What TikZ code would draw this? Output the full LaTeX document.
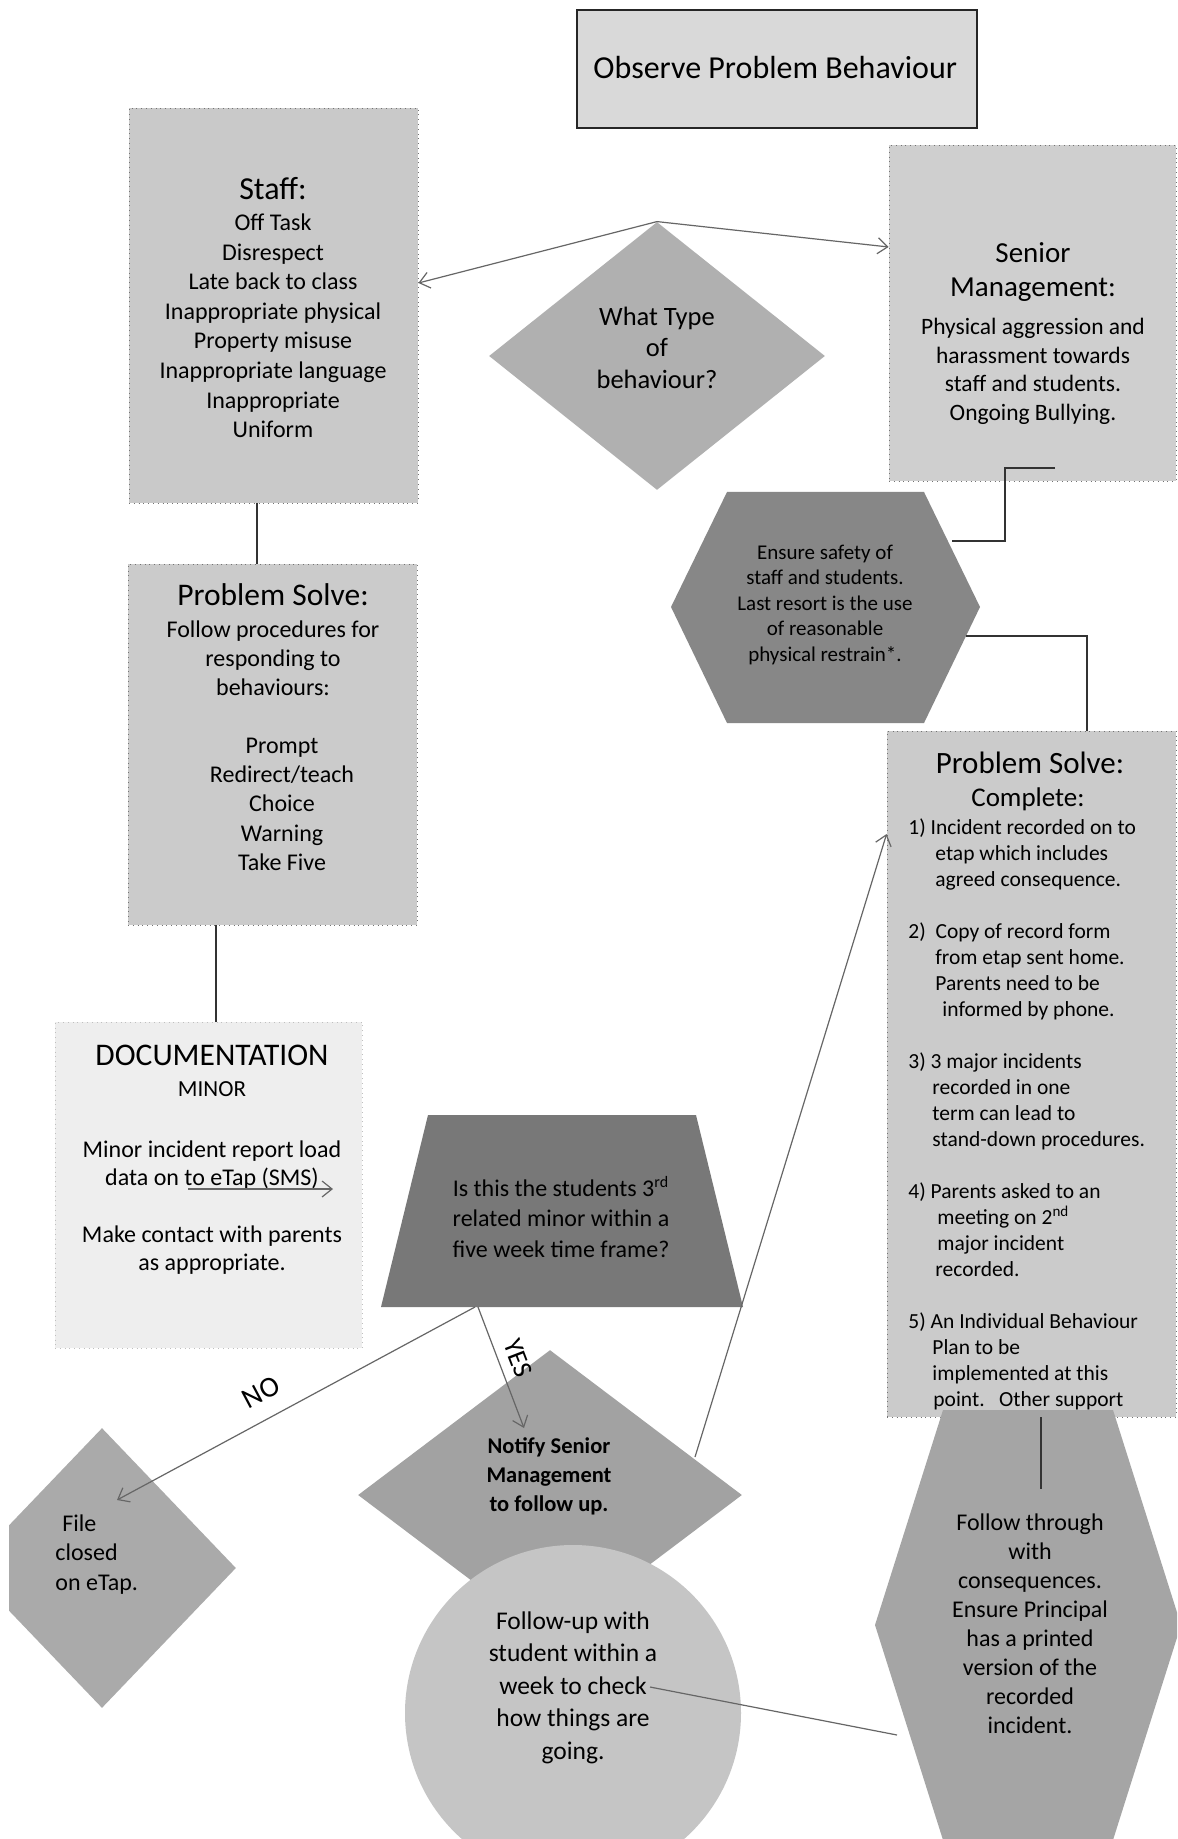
\documentclass[tikz,border=0pt]{standalone}
\usepackage{fontspec}
\setmainfont{Carlito}
\usetikzlibrary{arrows.meta,shapes.geometric}
\definecolor{cObs}{HTML}{D9D9D9}
\definecolor{cStaff}{HTML}{C9C9C9}
\definecolor{cDia}{HTML}{B0B0B0}
\definecolor{cSen}{HTML}{CFCFCF}
\definecolor{cEns}{HTML}{878787}
\definecolor{cPS}{HTML}{CBCBCB}
\definecolor{cDoc}{HTML}{EEEEEE}
\definecolor{cTrap}{HTML}{787878}
\definecolor{cNot}{HTML}{A2A2A2}
\definecolor{cFile}{HTML}{AAAAAA}
\definecolor{cCirc}{HTML}{C5C5C5}
\definecolor{cFol}{HTML}{A5A5A5}
\newcommand\fsz[2]{\fontsize{#1}{#2}\selectfont}
\begin{document}
\begin{tikzpicture}[x=0.5pt,y=-0.5pt,
  box/.style={draw=black!55, dotted, line width=0.4pt, inner sep=0pt},
  conn/.style={draw=black!60, line width=0.6pt},
  elb/.style={draw=black!80, line width=0.6pt},
  arr/.style={conn, -{Straight Barb[length=5pt,width=8pt]}},
  txt/.style={inner sep=0pt, align=center},
  ltxt/.style={inner sep=0pt, align=left},
]
\path[use as bounding box] (0,0) rectangle (1177,1839);
\clip (0,0) rectangle (1177,1839);
\fill[white] (0,0) rectangle (1177,1839);

% ---------- shapes ----------
\node[box, fill=cObs, draw=black!85, solid, line width=0.8pt, minimum width=200pt, minimum height=59pt] (obs) at (777,69) {};
\node[box, fill=cStaff, minimum width=144.5pt, minimum height=197.5pt] (staff) at (273.5,305.5) {};
\node[diamond, fill=cDia, inner sep=0pt, minimum width=168pt, minimum height=134pt] (dtype) at (657,356) {};
\node[box, fill=cSen, minimum width=143.5pt, minimum height=168pt] (senior) at (1032.5,313) {};
\path[fill=cEns] (727,492) -- (924,492) -- (980,607) -- (924,723) -- (727,723) -- (671,607) -- cycle;
\node[box, fill=cPS, minimum width=144.5pt, minimum height=180.5pt] (ps1) at (272.5,744.5) {};
\node[box, fill=cPS, minimum width=144.5pt, minimum height=343pt] (ps2) at (1031.5,1074) {};
\node[box, fill=cDoc, draw=black!25, minimum width=153.5pt, minimum height=163pt] (doc) at (208.5,1185) {};
\path[fill=cTrap] (428,1115) -- (696,1115) -- (743,1307) -- (381,1307) -- cycle;
\begin{scope}
\clip (9,0) rectangle (1177,1839);
\node[diamond, fill=cFile, inner sep=0pt, minimum width=134pt, minimum height=140pt] (file) at (102,1568) {};
\end{scope}
\node[diamond, fill=cNot, inner sep=0pt, minimum width=192pt, minimum height=145pt] (notify) at (550,1495) {};
\node[circle, fill=cCirc, inner sep=0pt, minimum size=168pt] (fup) at (573,1713) {};

% ---------- named connector ends ----------
\coordinate (senStub) at (1055,468);
\coordinate (senDrop) at (1005,468);
\coordinate (ensTR) at (952,541);
\coordinate (ensR) at (966,636);
\coordinate (ps2Top) at (1087,731);
\coordinate (docA) at (188,1189);
\coordinate (docB) at (333,1189);
\coordinate (trapB) at (475,1307);
\coordinate (trapB2) at (478,1307);
\coordinate (fileIn) at (117,1500);
\coordinate (notifyIn) at (524,1428);
\coordinate (notifyR) at (695,1457);
\coordinate (fupText) at (650,1687);
\coordinate (folL) at (897,1735);
\coordinate (folTop) at (1041,1489);

% ---------- texts ----------
\node[anchor=base west, inner sep=0pt, font=\fsz{16}{19}] (tobs) at (593,79) {Observe Problem Behaviour};

\node[anchor=base, inner sep=0pt, font=\fsz{16}{19}] (tstaffh) at (273,200) {Staff:};
\node[txt, anchor=north, font=\fsz{12}{14.8}] (tstaff) at (273,209.3) {\strut Off Task\\Disrespect\\Late back to class\\Inappropriate physical\\Property misuse\\Inappropriate language\\Inappropriate\\Uniform};

\node[txt, anchor=north, font=\fsz{13.25}{15.75}] (tdtype) at (657,303) {\strut What Type\\of\\behaviour?};

\node[txt, anchor=north, font=\fsz{14.5}{17}] (tsenh) at (1033,238.2) {\strut Senior\\Management:};
\node[txt, anchor=north, font=\fsz{11.75}{14.3}] (tsen) at (1033,314) {\strut Physical aggression and\\harassment towards\\staff and students.\\Ongoing Bullying.};

\node[txt, anchor=north, font=\fsz{10.5}{12.75}] (tens) at (825,541.2) {\strut Ensure safety of\\staff and students.\\Last resort is the use\\of reasonable\\physical restrain*.};

\node[anchor=base, inner sep=0pt, font=\fsz{15.75}{18}] (tps1h) at (273,605) {Problem Solve:};
\node[txt, anchor=north, font=\fsz{12}{14.5}] (tps1a) at (273,616.7) {\strut Follow procedures for\\responding to\\behaviours:};
\node[txt, anchor=north, font=\fsz{12}{14.625}] (tps1b) at (282,732.5) {\strut Prompt\\Redirect/teach\\Choice\\Warning\\Take Five};

\node[anchor=base, inner sep=0pt, font=\fsz{15.5}{18}] (tps2h) at (1030,773) {Problem Solve:};
\node[anchor=base, inner sep=0pt, font=\fsz{13.5}{16}] (tps2c) at (1028,806) {Complete:};
\node[ltxt, anchor=north west, font=\fsz{10.75}{13}] (tps2) at (908,815.8) {\strut 1) Incident recorded on to\\
\hspace*{13.5pt}etap which includes\\
\hspace*{13.5pt}agreed consequence.\\
\mbox{}\\
2)\ \ Copy of record form\\
\hspace*{13.5pt}from etap sent home.\\
\hspace*{13.5pt}Parents need to be\\
\hspace*{17pt}informed by phone.\\
\mbox{}\\
3) 3 major incidents\\
\hspace*{12pt}recorded in one\\
\hspace*{12pt}term can lead to\\
\hspace*{12pt}stand-down procedures.\\
\mbox{}\\
4) Parents asked to an\\
\hspace*{14.5pt}meeting on 2\textsuperscript{nd}\\
\hspace*{14.5pt}major incident\\
\hspace*{13.5pt}recorded.\\
\mbox{}\\
5) An Individual Behaviour\\
\hspace*{12pt}Plan to be\\
\hspace*{12pt}implemented at this\\
\hspace*{12.5pt}point.\ \ \ Other support};

\node[anchor=base, inner sep=0pt, font=\fsz{15.75}{18}] (tdoch) at (212,1065) {DOCUMENTATION};
\node[anchor=base, inner sep=0pt, font=\fsz{11.5}{14}] (tdocm) at (212,1096) {MINOR};
\node[txt, anchor=north, font=\fsz{12}{14.125}] (tdoc) at (212,1137.2) {\strut Minor incident report load\\data on to eTap (SMS)\\\mbox{}\\Make contact with parents\\as appropriate.};

\node[txt, anchor=north, font=\fsz{12}{15.25}] (ttrap) at (561,1174.6) {\strut Is this the students 3\textsuperscript{rd}\\related minor within a\\five week time frame?};

\node[ltxt, anchor=north west, font=\fsz{12}{14.75}] (tfile) at (55,1510.4) {\strut\hspace*{3.5pt}File\\closed\\on eTap.};

% ---------- hexagon over PS2 bottom ----------
\path[fill=cFol] (943,1410) -- (1113,1410) -- (1181,1625) -- (1113,1840) -- (943,1840) -- (875,1625) -- cycle;
\node[txt, anchor=north, font=\fsz{12}{14.5}] (tfol) at (1030,1509.7) {\strut Follow through\\with\\consequences.\\Ensure Principal\\has a printed\\version of the\\recorded\\incident.};

\node[txt, anchor=north, font=\bfseries\fsz{11.25}{14.5}] (tnot) at (549,1432.7) {\strut Notify Senior\\Management\\to follow up.};
\node[txt, anchor=north, font=\fsz{12.75}{16.25}] (tfup) at (573,1606) {\strut Follow-up with\\student within a\\week to check\\how things are\\going.};

\node[inner sep=0pt, rotate=28, font=\fsz{14.5}{17}] (tno) at (261,1392) {NO};
\node[inner sep=0pt, rotate=-69, font=\fsz{13.5}{16}] (tyes) at (518,1358) {YES};

% ---------- connectors ----------
\draw[arr] (dtype.north) -- ([yshift=11.25pt]staff.east);
\draw[arr] (dtype.north) -- ([yshift=33pt]senior.west);
\draw[elb] (senStub) -- (senDrop) |- (ensTR);
\draw[elb] (ensR) -| (ps2Top);
\draw[elb] ([xshift=-8.25pt]staff.south) -- ([xshift=-7.75pt]ps1.north);
\draw[elb] ([xshift=-28.25pt]ps1.south) -- ([xshift=3.75pt]doc.north);
\draw[arr] (docA) -- (docB);
\draw[arr] (trapB) -- (fileIn);
\draw[arr] (trapB2) -- (notifyIn);
\draw[arr] (notifyR) -- ([yshift=120pt]ps2.west);
\draw[conn] (fupText) -- (folL);
\draw[elb] ([xshift=4.75pt]ps2.south) -- (folTop);
\end{tikzpicture}
\end{document}
